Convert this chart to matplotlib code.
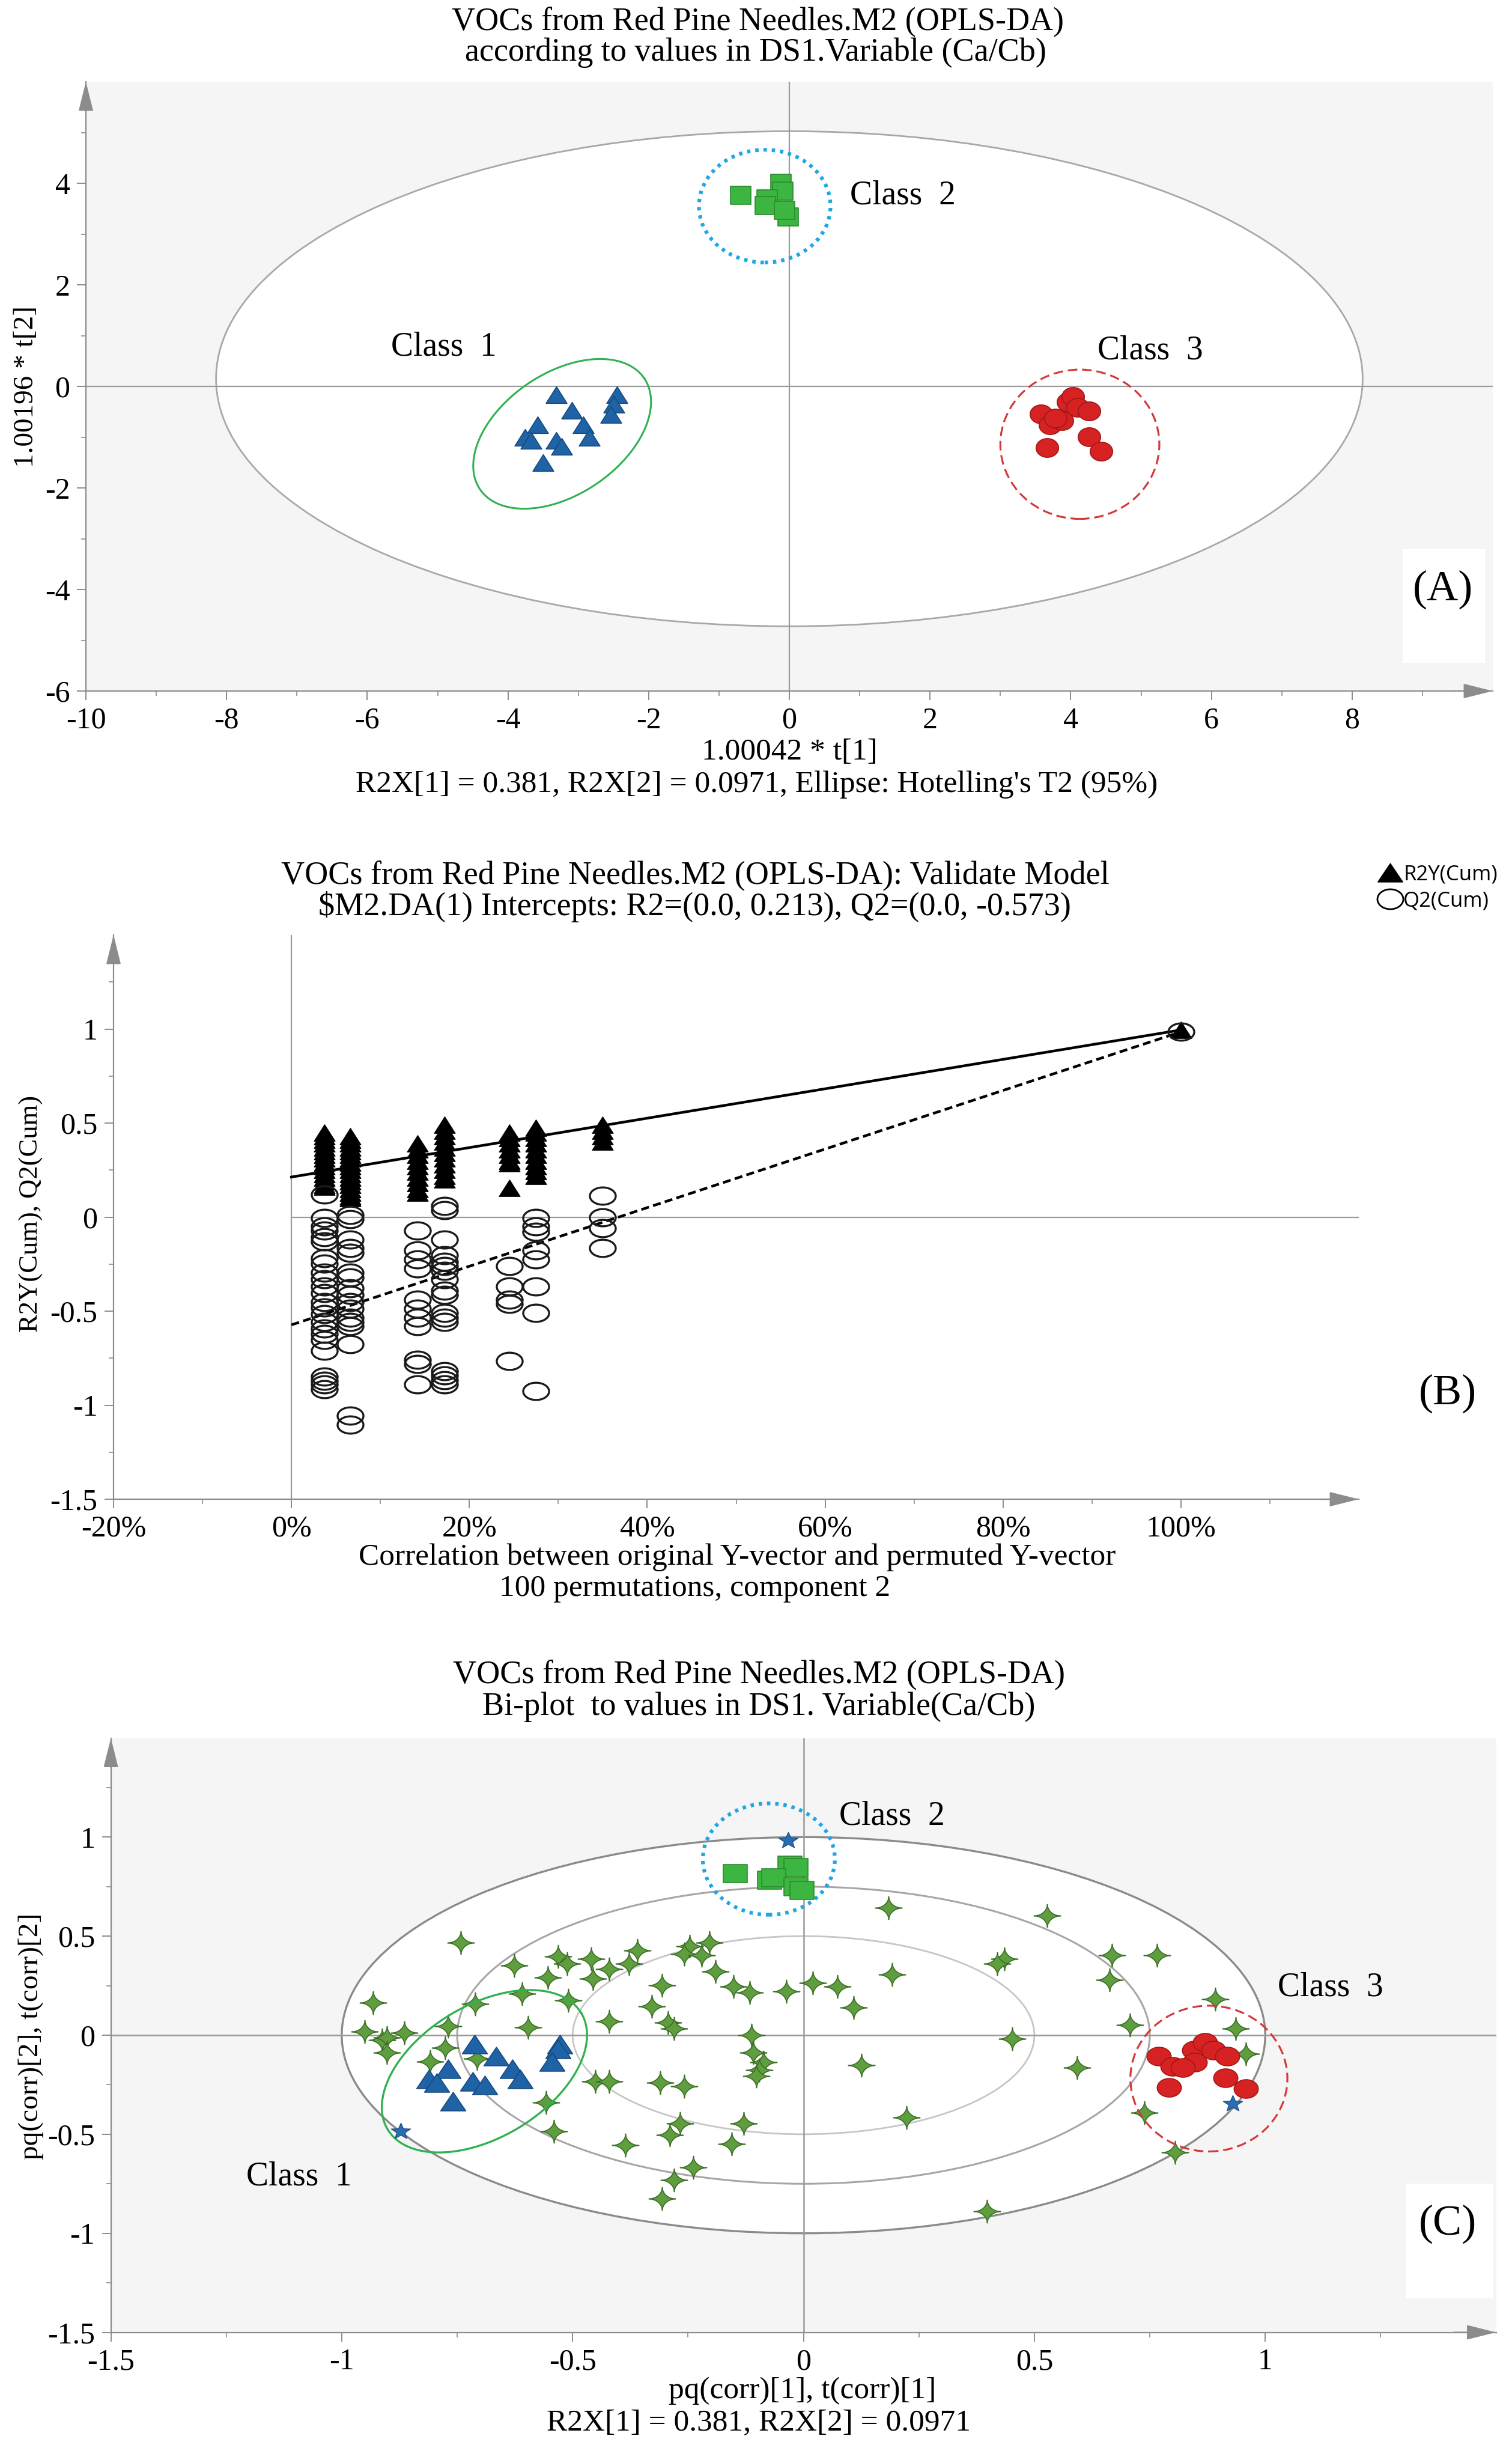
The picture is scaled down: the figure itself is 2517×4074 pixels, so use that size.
import numpy as np
import matplotlib
matplotlib.use('Agg')
import matplotlib.pyplot as plt
from matplotlib.path import Path
from matplotlib.patches import Ellipse, Rectangle
from matplotlib.lines import Line2D

plt.rcParams['font.family'] = ['Liberation Serif', 'DejaVu Serif']

W, H = 2517, 4074

# ---------------- data: panel A (score plot) ----------------
a_cls1_x = [-3.31, -3.09, -2.45, -2.49, -2.54, -2.93, -2.84, -3.58, -3.76, -3.67, -3.31, -3.24, -3.50]
a_cls1_y = [-0.16, -0.47, -0.17, -0.36, -0.56, -0.76, -1.00, -0.76, -1.00, -1.07, -1.07, -1.18, -1.50]
a_cls2_x = [-0.69, -0.12, -0.09, -0.32, -0.34, -0.02, -0.07]
a_cls2_y = [3.76, 4.00, 3.85, 3.69, 3.56, 3.34, 3.47]
a_cls3_x = [3.58, 3.71, 3.96, 4.03, 4.10, 4.26, 3.88, 3.66, 4.26, 4.43, 3.78]
a_cls3_y = [-0.54, -0.76, -0.31, -0.20, -0.41, -0.49, -0.67, -1.21, -0.99, -1.28, -0.63]

# ---------------- data: panel B (permutation test) ----------------
perm_corr = [0.037, 0.066, 0.142, 0.172, 0.245, 0.275, 0.350]
r2y_perm = [
    [0.45, 0.43, 0.41, 0.39, 0.37, 0.35, 0.33, 0.31, 0.29, 0.27, 0.25, 0.23, 0.21, 0.19, 0.17, 0.16],
    [0.43, 0.41, 0.39, 0.37, 0.35, 0.33, 0.31, 0.29, 0.27, 0.25, 0.23, 0.21, 0.19, 0.17, 0.15, 0.13, 0.11, 0.10],
    [0.39, 0.36, 0.33, 0.30, 0.27, 0.24, 0.21, 0.18, 0.15, 0.13],
    [0.49, 0.46, 0.43, 0.40, 0.37, 0.34, 0.31, 0.28, 0.25, 0.22, 0.20],
    [0.45, 0.42, 0.39, 0.36, 0.33, 0.30, 0.285, 0.155],
    [0.475, 0.45, 0.42, 0.39, 0.36, 0.33, 0.30, 0.27, 0.245, 0.22],
    [0.49, 0.46, 0.43, 0.40],
]
q2_perm = [
    [0.119, -0.006, -0.048, -0.071, -0.107, -0.130, -0.219, -0.249, -0.296, -0.332, -0.368, -0.403,
     -0.451, -0.480, -0.516, -0.557, -0.593, -0.623, -0.653, -0.712, -0.848, -0.872, -0.890, -0.914],
    [0.012, -0.012, -0.119, -0.166, -0.190, -0.296, -0.320, -0.380, -0.415, -0.451, -0.486, -0.534,
     -0.557, -0.581, -0.676, -1.056, -1.103],
    [-0.071, -0.178, -0.225, -0.273, -0.439, -0.486, -0.534, -0.581, -0.759, -0.780, -0.890],
    [0.059, 0.036, -0.119, -0.202, -0.237, -0.261, -0.285, -0.332, -0.391, -0.415, -0.510, -0.534,
     -0.557, -0.818, -0.842, -0.866, -0.890],
    [-0.261, -0.368, -0.439, -0.463, -0.765],
    [-0.006, -0.048, -0.077, -0.178, -0.225, -0.368, -0.510, -0.925],
    [0.113, 0.000, -0.059, -0.166],
]
orig_corr = 1.0
r2y_orig = 0.995
q2_orig = 0.985
r2_intercept = 0.213
q2_intercept = -0.573

# ---------------- data: panel C (bi-plot) ----------------
var_x = [-0.742, -0.932, -0.950, -0.913, -0.902, -0.865, -0.902, -0.770, -0.776, -0.809, -0.711, -0.707,
         -0.627, -0.609, -0.596, -0.553, -0.531, -0.512, -0.510, -0.460, -0.456, -0.421, -0.421, -0.451,
         -0.421, -0.557, -0.540, -0.386, -0.378, -0.360, -0.328,
         0.184, 0.192, -0.247, -0.204, -0.258, -0.221, -0.191, -0.306, -0.293, -0.280, -0.152, -0.117,
         -0.037, 0.020, 0.073, 0.108, -0.113, -0.109, -0.087, -0.096, -0.102, 0.125, -0.310, -0.258,
         -0.267, -0.289, -0.130, -0.156, 0.223, -0.239, -0.280, -0.306,
         0.527, 0.435, 0.419, 0.668, 0.765, 0.663, 0.452, 0.707, 0.593, 0.892, 0.936, 0.958, 0.738,
         0.804, 0.398]
var_y = [0.467, 0.164, 0.019, -0.025, -0.012, 0.013, -0.088, 0.045, -0.063, -0.132, 0.158, -0.119,
         0.353, 0.208, 0.038, 0.290, 0.398, 0.360, 0.177, 0.385, 0.284, 0.335, 0.070, -0.233,
         -0.233, -0.340, -0.485, -0.554, 0.360, 0.429, 0.145,
         0.643, 0.305, 0.448, 0.467, 0.410, 0.404, 0.322, 0.253, 0.064, 0.032, 0.246, 0.215,
         0.221, 0.265, 0.246, 0.139, 0.000, -0.088, -0.138, -0.176, -0.207, -0.151, -0.239, -0.258,
         -0.447, -0.504, -0.447, -0.548, -0.415, -0.667, -0.730, -0.825,
         0.605, 0.385, 0.360, 0.404, 0.404, 0.278, -0.018, 0.051, -0.163, 0.183, 0.032, -0.094, -0.390,
         -0.592, -0.888]
yvar_x = [-0.033, -0.872, 0.929]
yvar_y = [0.983, -0.485, -0.346]
c_cls1_x = [-0.713, -0.666, -0.527, -0.531, -0.544, -0.631, -0.614, -0.770, -0.811, -0.794, -0.716, -0.690, -0.759]
c_cls1_y = [-0.044, -0.107, -0.044, -0.070, -0.132, -0.170, -0.220, -0.170, -0.220, -0.239, -0.233, -0.251, -0.333]
c_cls2_x = [-0.148, -0.029, -0.016, -0.074, -0.065, -0.016, -0.003]
c_cls2_y = [0.817, 0.857, 0.845, 0.782, 0.794, 0.750, 0.731]
c_cls3_x = [0.769, 0.800, 0.791, 0.846, 0.870, 0.888, 0.918, 0.914, 0.958, 0.848, 0.822]
c_cls3_y = [-0.107, -0.157, -0.264, -0.075, -0.037, -0.075, -0.107, -0.214, -0.270, -0.138, -0.163]
c_radii = [1.0, 0.75, 0.5]

# ---------------- colours ----------------
BLUE, BLUE_E = '#1f63a6', '#174a80'
GREEN, GREEN_E = '#3db541', '#2a8a2e'
RED, RED_E = '#d62222', '#a41616'
STAR, STAR_E = '#5f9e3f', '#3b6e25'
GRID = '#9a9a9a'
BG = '#f5f5f5'

TITLE_FS = 39
LABEL_FS = 37
TICK_FS = 36
CLASS_FS = 40


# ---------------- stretched marker shapes ----------------
def tri_marker(asp):
    return Path([[0, 1], [-asp, -1], [asp, -1], [0, 1]],
                [Path.MOVETO, Path.LINETO, Path.LINETO, Path.CLOSEPOLY])


def sq_marker(asp):
    return Path([[-asp, -1], [asp, -1], [asp, 1], [-asp, 1], [-asp, -1]],
                [Path.MOVETO] + [Path.LINETO] * 3 + [Path.CLOSEPOLY])


def ell_marker(asp):
    t = np.linspace(0, 2 * np.pi, 61)
    v = np.c_[asp * np.cos(t), np.sin(t)]
    return Path(v, closed=True)


def star4_marker(asp, p=3.5):
    t = np.linspace(0, 2 * np.pi, 121)
    c, s = np.cos(t), np.sin(t)
    v = np.c_[asp * np.sign(c) * np.abs(c) ** p, np.sign(s) * np.abs(s) ** p]
    return Path(v, closed=True)


def star5_marker(asp):
    ang = np.pi / 2 + np.arange(10) * np.pi / 5
    r = np.where(np.arange(10) % 2 == 0, 1.0, 0.42)
    v = np.c_[asp * r * np.cos(ang), r * np.sin(ang)]
    v = np.vstack([v, v[:1]])
    return Path(v, closed=True)


fig = plt.figure(figsize=(W / 100, H / 100), dpi=100)


def add_axes_px(left, top, right, bottom):
    return fig.add_axes([left / W, 1 - bottom / H, (right - left) / W, (bottom - top) / H])


def ftext(px, py, s, **kw):
    fig.text(px / W, 1 - py / H, s, ha=kw.pop('ha', 'center'), va=kw.pop('va', 'center'), **kw)


def style_axes(ax, xlim, ylim, xmaj, xlab, xmin, ymaj, ylab, ymin, face):
    ax.set_xlim(xlim)
    ax.set_ylim(ylim)
    ax.set_facecolor(face)
    for s in ['top', 'right']:
        ax.spines[s].set_visible(False)
    for s in ['left', 'bottom']:
        ax.spines[s].set_color('#8c8c8c')
        ax.spines[s].set_linewidth(1.6)
    ax.set_xticks(xmaj)
    ax.set_xticklabels(xlab)
    ax.set_xticks(xmin, minor=True)
    ax.set_yticks(ymaj)
    ax.set_yticklabels(ylab)
    ax.set_yticks(ymin, minor=True)
    ax.tick_params(which='major', direction='out', length=11, width=1.4, color='#8c8c8c',
                   labelsize=TICK_FS, pad=8)
    ax.tick_params(which='minor', direction='out', length=6, width=1.2, color='#8c8c8c')
    arrow = dict(arrowstyle='-|>,head_length=1.4,head_width=0.35', color='#8c8c8c', lw=1.6,
                 mutation_scale=22, shrinkA=0, shrinkB=0)
    ax.annotate('', xy=(0, 1.0), xytext=(0, 0.95), xycoords='axes fraction', arrowprops=arrow,
                annotation_clip=False)
    ax.annotate('', xy=(1.0, 0), xytext=(0.97, 0), xycoords='axes fraction', arrowprops=arrow,
                annotation_clip=False)


def tilted_ellipse(ax, cx, cy, a_px, b_px, ang, **kw):
    # ellipse given in screen pixels, converted into the data units of ax
    bb = ax.get_position()
    x0, x1 = ax.get_xlim()
    y0, y1 = ax.get_ylim()
    sx = bb.width * W / (x1 - x0)
    sy = bb.height * H / (y1 - y0)
    t = np.linspace(0, 2 * np.pi, 300)
    th = np.radians(ang)
    dx = a_px * np.cos(t) * np.cos(th) - b_px * np.sin(t) * np.sin(th)
    dy = a_px * np.cos(t) * np.sin(th) + b_px * np.sin(t) * np.cos(th)
    ax.plot(cx + dx / sx, cy + dy / sy, **kw)


# =========================== Panel A ===========================
axA = add_axes_px(143, 136, 2485, 1150)
style_axes(axA, (-10, 10), (-6, 6),
           np.arange(-10, 9, 2), ['-10', '-8', '-6', '-4', '-2', '0', '2', '4', '6', '8'],
           np.arange(-9, 10, 2),
           np.arange(-6, 5, 2), ['-6', '-4', '-2', '0', '2', '4'], np.arange(-5, 6, 2), BG)
axA.add_patch(Ellipse((0, 0.15), 16.3, 9.75, facecolor='white', edgecolor='#a8a8a8', lw=2, zorder=0.5))
axA.axhline(0, color=GRID, lw=1.6, zorder=1)
axA.axvline(0, color=GRID, lw=1.6, zorder=1)
tilted_ellipse(axA, -3.23, -0.935, 165, 101, 34, color='#2fb150', lw=2.2, zorder=2)
axA.add_patch(Ellipse((-0.35, 3.55), 1.87, 2.22, fill=False, edgecolor='#1ea7e4', lw=4.5,
                      linestyle=(0, (0.9, 1.3)), zorder=2))
axA.add_patch(Ellipse((4.13, -1.14), 2.26, 2.94, fill=False, edgecolor='#d43a3a', lw=2.3,
                      linestyle=(0, (5, 2.5)), zorder=2))
axA.plot(a_cls1_x, a_cls1_y, ls='none', marker=tri_marker(1.26), ms=25, mfc=BLUE, mec=BLUE_E, mew=1.2, zorder=3)
axA.plot(a_cls2_x, a_cls2_y, ls='none', marker=sq_marker(1.1), ms=24, mfc=GREEN, mec=GREEN_E, mew=1.2, zorder=3)
axA.plot(a_cls3_x, a_cls3_y, ls='none', marker=ell_marker(1.2), ms=27, mfc=RED, mec=RED_E, mew=1.2, zorder=3)
axA.text(-5.66, 0.78, 'Class  1', fontsize=CLASS_FS, va='center', ha='left')
axA.text(0.86, 3.76, 'Class  2', fontsize=CLASS_FS, va='center', ha='left')
axA.text(4.38, 0.70, 'Class  3', fontsize=CLASS_FS, va='center', ha='left')
axA.add_patch(Rectangle((0.936, 0.046), 0.0585, 0.187, transform=axA.transAxes, facecolor='white',
                        edgecolor='none', zorder=4))
axA.text(0.9646, 0.166, '(A)', transform=axA.transAxes, fontsize=52, ha='center', va='center', zorder=5)

ftext(1261, 36, 'VOCs from Red Pine Needles.M2 (OPLS-DA)', fontsize=TITLE_FS)
ftext(1258, 88, 'according to values in DS1.Variable (Ca/Cb)', fontsize=TITLE_FS)
ftext(1314, 1252, '1.00042 * t[1]', fontsize=LABEL_FS)
ftext(1260, 1306, "R2X[1] = 0.381, R2X[2] = 0.0971, Ellipse: Hotelling's T2 (95%)", fontsize=LABEL_FS)
ftext(44, 644, '1.00196 * t[2]', fontsize=34, rotation=90)

# =========================== Panel B ===========================
axB = add_axes_px(189, 1556, 2262, 2495)
style_axes(axB, (-0.2, 1.2), (-1.5, 1.5),
           np.arange(-0.2, 1.01, 0.2), ['-20%', '0%', '20%', '40%', '60%', '80%', '100%'],
           np.arange(-0.1, 1.15, 0.2),
           np.arange(-1.5, 1.01, 0.5), ['-1.5', '-1', '-0.5', '0', '0.5', '1'],
           np.arange(-1.25, 1.3, 0.5), 'white')
axB.hlines(0, 0, 1.2, color=GRID, lw=1.6, zorder=1)
axB.axvline(0, color=GRID, lw=1.6, zorder=1)
tri_b = tri_marker(1.27)
circ_b = ell_marker(1.5)
for xc, vals in zip(perm_corr, r2y_perm):
    axB.plot([xc] * len(vals), vals, ls='none', marker=tri_b, ms=25, color='black', zorder=3)
for xc, vals in zip(perm_corr, q2_perm):
    axB.plot([xc] * len(vals), vals, ls='none', marker=circ_b, ms=31, mfc='none', mec='#1a1a1a',
             mew=2.4, zorder=3)
axB.plot([orig_corr], [r2y_orig], ls='none', marker=tri_b, ms=25, color='black', zorder=3)
axB.plot([orig_corr], [q2_orig], ls='none', marker=circ_b, ms=31, mfc='none', mec='#1a1a1a', mew=2.4, zorder=3)
axB.plot([0, orig_corr], [r2_intercept, r2y_orig], color='black', lw=3.2, zorder=2)
axB.plot([0, orig_corr], [q2_intercept, q2_orig], color='black', lw=3.2, ls=(0, (3, 1.6)), zorder=2)
handles = [Line2D([], [], ls='none', marker=tri_marker(1.35), ms=30, color='black', label='R2Y(Cum)'),
           Line2D([], [], ls='none', marker=ell_marker(1.3), ms=31, mfc='none', mec='black', mew=2,
                  label='Q2(Cum)')]
axB.legend(handles=handles, loc='upper left', bbox_to_anchor=(2298 / W, 1 - 1438 / H),
           bbox_transform=fig.transFigure, frameon=False, handlelength=0.9, handletextpad=0.2,
           labelspacing=0.3, borderpad=0, borderaxespad=0,
           prop={'family': ['Open Sans', 'DejaVu Sans'], 'size': 25})

ftext(1157, 1457, 'VOCs from Red Pine Needles.M2 (OPLS-DA): Validate Model', fontsize=TITLE_FS)
ftext(1156, 1509, r'\$M2.DA(1) Intercepts: R2=(0.0, 0.213), Q2=(0.0, -0.573)', fontsize=TITLE_FS)
ftext(1227, 2592, 'Correlation between original Y-vector and permuted Y-vector', fontsize=LABEL_FS)
ftext(1157, 2644, '100 permutations, component 2', fontsize=LABEL_FS)
ftext(52, 2020, 'R2Y(Cum), Q2(Cum)', fontsize=32, rotation=90)
ftext(2410, 2319, '(B)', fontsize=52)

# =========================== Panel C ===========================
axC = add_axes_px(184.6, 2892.5, 2490.5, 3881.5)
style_axes(axC, (-1.5, 1.5), (-1.5, 1.5),
           np.arange(-1.5, 1.01, 0.5), ['-1.5', '-1', '-0.5', '0', '0.5', '1'],
           np.arange(-1.25, 1.3, 0.5),
           np.arange(-1.5, 1.01, 0.5), ['-1.5', '-1', '-0.5', '0', '0.5', '1'],
           np.arange(-1.25, 1.3, 0.5), BG)
axC.add_patch(Ellipse((0, 0), 2 * c_radii[0], 2 * c_radii[0], facecolor='white', edgecolor='none', zorder=0.4))
for r, col, lw in zip(c_radii, ['#8a8a8a', '#a6a6a6', '#c6c6c6'], [2.4, 2.2, 2.0]):
    axC.add_patch(Ellipse((0, 0), 2 * r, 2 * r, fill=False, edgecolor=col, lw=lw, zorder=0.6))
axC.axhline(0, color=GRID, lw=1.8, zorder=1)
axC.axvline(0, color=GRID, lw=1.8, zorder=1)
axC.plot(var_x, var_y, ls='none', marker=star4_marker(1.16), ms=32, mfc=STAR, mec=STAR_E, mew=1.2, zorder=2)
tilted_ellipse(axC, -0.691, -0.182, 188, 110, 31, color='#2fb150', lw=2.4, zorder=2.5)
axC.add_patch(Ellipse((-0.075, 0.889), 0.286, 0.562, fill=False, edgecolor='#1ea7e4', lw=4.5,
                      linestyle=(0, (0.9, 1.3)), zorder=2.5))
axC.add_patch(Ellipse((0.878, -0.219), 0.34, 0.736, fill=False, edgecolor='#d43a3a', lw=2.3,
                      linestyle=(0, (5, 2.5)), zorder=2.5))
axC.plot(c_cls1_x, c_cls1_y, ls='none', marker=tri_marker(1.35), ms=30, mfc=BLUE, mec=BLUE_E, mew=1.2, zorder=3)
axC.plot(c_cls2_x, c_cls2_y, ls='none', marker=sq_marker(1.3), ms=29, mfc=GREEN, mec=GREEN_E, mew=1.2, zorder=3)
axC.plot(c_cls3_x, c_cls3_y, ls='none', marker=ell_marker(1.3), ms=29, mfc=RED, mec=RED_E, mew=1.2, zorder=3)
axC.plot(yvar_x, yvar_y, ls='none', marker=star5_marker(1.2), ms=23, mfc='#2a6db2', mec='#1d4f86', mew=1, zorder=3.5)
axC.text(0.077, 1.106, 'Class  2', fontsize=CLASS_FS, va='center', ha='left')
axC.text(1.027, 0.24, 'Class  3', fontsize=CLASS_FS, va='center', ha='left')
axC.text(-1.207, -0.714, 'Class  1', fontsize=CLASS_FS, va='center', ha='left')
axC.add_patch(Rectangle((0.9347, 0.057), 0.063, 0.193, transform=axC.transAxes, facecolor='white',
                        edgecolor='none', zorder=4))
axC.text(0.965, 0.1825, '(C)', transform=axC.transAxes, fontsize=52, ha='center', va='center', zorder=5)

ftext(1263, 2787, 'VOCs from Red Pine Needles.M2 (OPLS-DA)', fontsize=TITLE_FS)
ftext(1263, 2841, 'Bi-plot  to values in DS1. Variable(Ca/Cb)', fontsize=TITLE_FS)
ftext(1336, 3979, 'pq(corr)[1], t(corr)[1]', fontsize=LABEL_FS)
ftext(1263, 4033, 'R2X[1] = 0.381, R2X[2] = 0.0971', fontsize=LABEL_FS)
ftext(52, 3389, 'pq(corr)[2], t(corr)[2]', fontsize=34, rotation=90)

fig.savefig('out.png', dpi=100, facecolor='white')
